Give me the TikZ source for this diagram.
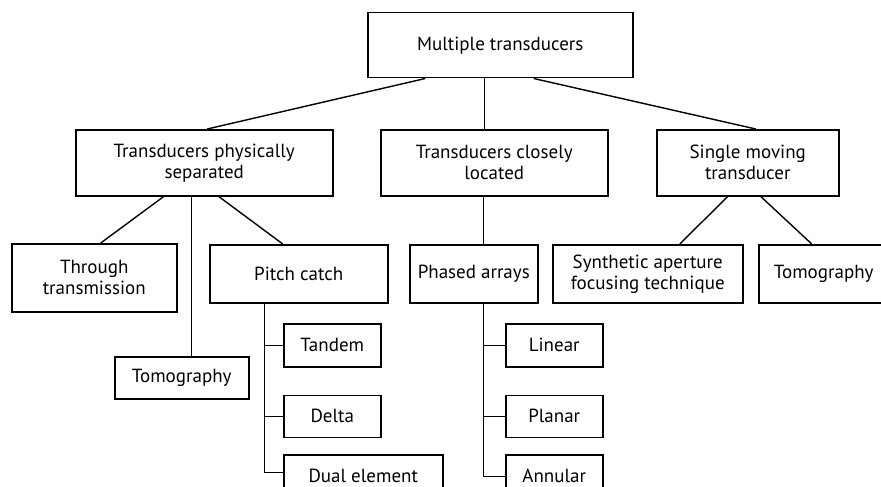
\documentclass[tikz,border=0pt]{standalone}
\usepackage{fontspec}
\setmainfont{PT Sans}
\usepackage{tikz}
\usetikzlibrary{positioning}

\begin{document}
\begin{tikzpicture}[
  x=1pt, y=-1pt,
  every node/.style={font=\fontsize{19}{21}\selectfont},
  box/.style={rectangle, draw=black, line width=1.5pt, fill=white, anchor=north west, inner sep=0pt, align=center},
  link/.style={draw=black, line width=1.4pt}
]
\useasboundingbox (0,0) rectangle (881,487);
\clip (0,0) rectangle (881,487);

% Root
\node[box, minimum width=265pt, minimum height=65pt] (root) at (367,12) {Multiple transducers};

% Second level
\node[box, minimum width=257pt, minimum height=66pt] (separated) at (75,129) {Transducers physically\\separated};
\node[box, minimum width=227pt, minimum height=66pt] (closely) at (380,129) {Transducers closely\\located};
\node[box, minimum width=182pt, minimum height=66pt] (moving) at (656,129) {Single moving\\transducer};

% Third level
\node[box, minimum width=165pt, minimum height=68pt] (through) at (11,243) {Through\\transmission};
\node[box, minimum width=134pt, minimum height=42pt] (tomoleft) at (114,356) {Tomography};
\node[box, minimum width=178pt, minimum height=58pt] (pitch) at (209,244) {Pitch catch};
\node[box, minimum width=128pt, minimum height=58pt] (phased) at (409,244) {Phased arrays};
\node[box, minimum width=190pt, minimum height=58pt] (saft) at (552,244) {Synthetic aperture\\focusing technique};
\node[box, minimum width=130pt, minimum height=58pt] (tomoright) at (758,244) {Tomography};

% Pitch catch variants
\node[box, minimum width=97pt, minimum height=43pt] (tandem) at (283,323) {Tandem};
\node[box, minimum width=97pt, minimum height=42pt, below=27pt of tandem.south west, anchor=north west] (delta) {Delta};
\node[box, minimum width=159pt, minimum height=43pt, below=16pt of delta.south west, anchor=north west] (dual) {Dual element};

% Phased array variants
\node[box, minimum width=97pt, minimum height=43pt] (linear) at (505,323) {Linear};
\node[box, minimum width=97pt, minimum height=42pt, below=27pt of linear.south west, anchor=north west] (planar) {Planar};
\node[box, minimum width=97pt, minimum height=43pt, below=16pt of planar.south west, anchor=north west] (annular) {Annular};

% Connections - root
\draw[link] ([xshift=-75pt]root.south) -- ([xshift=3pt]separated.north);
\draw[link] ([xshift=-16pt]root.south) -- ([xshift=-16pt]root.south |- closely.north);
\draw[link] ([xshift=33.5pt]root.south) -- ([xshift=8pt]moving.north);

% Connections - physically separated
\draw[link] ([xshift=-40.5pt]separated.south) -- ([xshift=6.5pt]through.north);
\draw[link] ([xshift=-12.5pt]separated.south) -- ([xshift=-12.5pt]separated.south |- tomoleft.north);
\draw[link] ([xshift=14.5pt]separated.south) -- ([xshift=-16pt]pitch.north);

% Connections - closely located
\draw[link] ([xshift=10pt]phased.north |- closely.south) -- ([xshift=10pt]phased.north);

% Connections - single moving
\draw[link] ([xshift=-20pt]moving.south) -- ([xshift=32pt]saft.north);
\draw[link] ([xshift=13pt]moving.south) -- ([xshift=-12pt]tomoright.north);

% Trunks
\draw[link] ([xshift=-34pt]pitch.south) |- (tandem.west);
\draw[link] ([xshift=-34pt]pitch.south) |- (delta.west);
\draw[link] ([xshift=-34pt]pitch.south) |- ([yshift=3.5pt]dual.west);
\draw[link] ([xshift=10pt]phased.south) |- (linear.west);
\draw[link] ([xshift=10pt]phased.south) |- (planar.west);
\draw[link] ([xshift=10pt]phased.south) |- (annular.west);
\end{tikzpicture}
\end{document}
